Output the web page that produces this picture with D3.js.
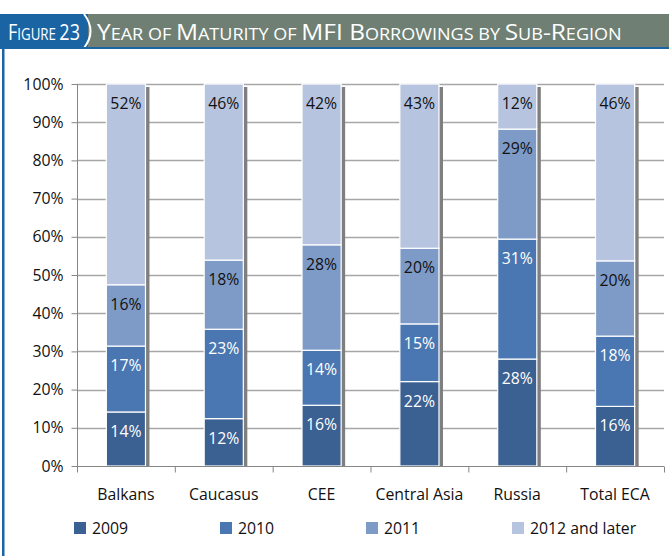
<!DOCTYPE html>
<html>
<head>
<meta charset="utf-8">
<script src="https://cdn.jsdelivr.net/npm/d3@7"></script>
<style>
body { margin: 0; background: #fff; }
text { font-family: "Open Sans", Lato, sans-serif; }
</style>
</head>
<body>
<svg id="chart"></svg>
<script>
var width = 669, height = 556;

var regions = ["Balkans", "Caucasus", "CEE", "Central Asia", "Russia", "Total ECA"];
var years = ["2009", "2010", "2011", "2012 and later"];
var v2009 = [14.1, 12.4, 15.9, 22.1, 28.0, 15.6];
var v2010 = [17.2, 23.4, 14.4, 15.1, 31.4, 18.4];
var v2011 = [16.0, 18.1, 27.6, 19.8, 28.8, 19.7];
var v2012 = [52.4, 46.1, 42.1, 43.0, 11.8, 46.3];
var yTicks = [0, 0.1, 0.2, 0.3, 0.4, 0.5, 0.6, 0.7, 0.8, 0.9, 1];

var colors = ["#3b6092", "#4a77b1", "#7e9bc8", "#b6c4df"];
var labelColors = ["#fff", "#fff", "#111", "#111"];
var fs = 15.8;

var rows = regions.map(function(r, i) {
    return {region: r, "2009": v2009[i], "2010": v2010[i], "2011": v2011[i], "2012 and later": v2012[i]};
});

var stack = d3.stack().keys(years).offset(d3.stackOffsetExpand);
var series = stack(rows);

var margin = {top: 84, right: 5, bottom: 90, left: 77};

var svg = d3.select("#chart")
    .attr("width", width)
    .attr("height", height);

// title bar
svg.append("rect").attr("x", 0).attr("y", 14).attr("width", width).attr("height", 34).attr("fill", "#6f7f74");
svg.append("rect").attr("x", 0).attr("y", 14).attr("width", 88).attr("height", 34).attr("fill", "#1a64a4");
svg.append("path")
    .attr("d", "M84,14 Q97,31 84,48")
    .attr("fill", "none").attr("stroke", "#fff").attr("stroke-width", 2);
svg.append("rect").attr("x", 0).attr("y", 47).attr("width", width).attr("height", 2).attr("fill", "#1a64a4");
svg.append("rect").attr("x", 2).attr("y", 48).attr("width", 2.5).attr("height", height - 48).attr("fill", "#1a64a4");

// small caps title: capital letters big, lower case letters as small capitals
function smallCaps(sel, str, big, small) {
    var cur = null, txt = "";
    for (var k = 0; k < str.length; k++) {
        var c = str.charAt(k);
        var isBig = (c !== " " && c === c.toUpperCase());
        if (c === " ") isBig = cur;
        if (cur === null) cur = isBig;
        if (isBig !== cur) {
            sel.append("tspan").attr("font-size", cur ? big : small).text(txt);
            txt = "";
            cur = isBig;
        }
        txt += c.toUpperCase();
    }
    sel.append("tspan").attr("font-size", cur ? big : small).text(txt);
}

function fitText(sel, x0, target) {
    var len = sel.node().getComputedTextLength();
    var k = target / len;
    sel.attr("transform", "translate(" + x0 + ",0) scale(" + k + ",1)");
}

var t1 = svg.append("text").attr("x", 0).attr("y", 40).attr("fill", "#fff")
    .style("white-space", "pre");
smallCaps(t1, "Figure 23", 21, 15.5);
fitText(t1, 8, 72);

var t2 = svg.append("text").attr("x", 0).attr("y", 40).attr("fill", "#fff")
    .style("white-space", "pre");
smallCaps(t2, "Year of Maturity of MFI Borrowings by Sub-Region", 21, 15.5);
fitText(t2, 97, 525);

var x = d3.scaleBand()
    .domain(regions)
    .range([margin.left, width - margin.right])
    .paddingInner(0.6)
    .paddingOuter(0.3);

var y = d3.scaleLinear()
    .domain([0, 1])
    .range([height - margin.bottom, margin.top]);

var band = d3.scaleBand().domain(regions).range([margin.left, width - margin.right]);

// gridlines
svg.append("g")
    .selectAll("line")
    .data(yTicks.slice(1))
    .enter()
    .append("line")
    .attr("x1", margin.left)
    .attr("x2", width - margin.right)
    .attr("y1", function(d) { return Math.round(y(d)) + 0.5; })
    .attr("y2", function(d) { return Math.round(y(d)) + 0.5; })
    .attr("stroke", "#a6a6a6")
    .attr("stroke-width", 1.3);

// bar shadows
svg.append("g")
    .selectAll("rect")
    .data(regions)
    .enter()
    .append("rect")
    .attr("x", function(d) { return x(d) + x.bandwidth(); })
    .attr("y", y(1) + 3)
    .attr("width", 4)
    .attr("height", y(0) - y(1) - 3)
    .attr("fill", "#7f7f7f");

// bars
var layers = svg.append("g")
    .selectAll("g")
    .data(series)
    .enter()
    .append("g")
    .attr("fill", function(d, i) { return colors[i]; });

layers.selectAll("rect")
    .data(function(d) { return d; })
    .enter()
    .append("rect")
    .attr("x", function(d) { return x(d.data.region); })
    .attr("y", function(d) { return y(d[1]); })
    .attr("width", x.bandwidth())
    .attr("height", function(d) { return y(d[0]) - y(d[1]); })
    .attr("stroke", "#fff")
    .attr("stroke-width", 1.2);

// data labels
layers.each(function(s, i) {
    d3.select(this).selectAll("text")
        .data(s)
        .enter()
        .append("text")
        .attr("x", function(d) { return x(d.data.region) + x.bandwidth() / 2; })
        .attr("y", function(d) { return y(d[1]) + 25; })
        .attr("text-anchor", "middle")
        .attr("font-size", fs)
        .attr("fill", labelColors[i])
        .text(function(d) { return Math.round(d.data[s.key]) + "%"; });
});

// y axis
var yAxis = d3.axisLeft(y)
    .tickValues(yTicks)
    .tickFormat(d3.format(".0%"))
    .tickSize(6)
    .tickPadding(8);

var gy = svg.append("g")
    .attr("transform", "translate(" + (margin.left + 0.5) + ",0)")
    .call(yAxis);
gy.select(".domain").attr("stroke", "#868686").attr("d", "M0," + y(1) + "V" + y(0));
gy.selectAll(".tick line").attr("stroke", "#868686");
gy.selectAll(".tick text").attr("font-size", fs).attr("fill", "#111").style("font-family", "'Open Sans', sans-serif");

// x axis
var gx = svg.append("g")
    .attr("transform", "translate(0," + (y(0) + 0.5) + ")");
gx.append("line")
    .attr("x1", margin.left).attr("x2", width - margin.right)
    .attr("stroke", "#868686");
gx.selectAll("line.tk")
    .data(regions.concat(["end"]))
    .enter()
    .append("line")
    .attr("class", "tk")
    .attr("x1", function(d, i) { return margin.left + i * band.bandwidth() + 0.5; })
    .attr("x2", function(d, i) { return margin.left + i * band.bandwidth() + 0.5; })
    .attr("y1", 0).attr("y2", 6)
    .attr("stroke", "#868686");
gx.selectAll("text")
    .data(regions)
    .enter()
    .append("text")
    .attr("x", function(d) { return x(d) + x.bandwidth() / 2; })
    .attr("y", 33)
    .attr("text-anchor", "middle")
    .attr("font-size", fs)
    .attr("fill", "#111")
    .text(function(d) { return d; });

// legend
var legendX = [74, 220, 366, 512];
var legend = svg.append("g")
    .selectAll("g")
    .data(years)
    .enter()
    .append("g")
    .attr("transform", function(d, i) { return "translate(" + legendX[i] + ",522)"; });
legend.append("rect")
    .attr("width", 12).attr("height", 12)
    .attr("fill", function(d, i) { return colors[i]; });
legend.append("text")
    .attr("x", 18).attr("y", 12)
    .attr("font-size", fs)
    .attr("fill", "#111")
    .text(function(d) { return d; });
</script>
</body>
</html>
